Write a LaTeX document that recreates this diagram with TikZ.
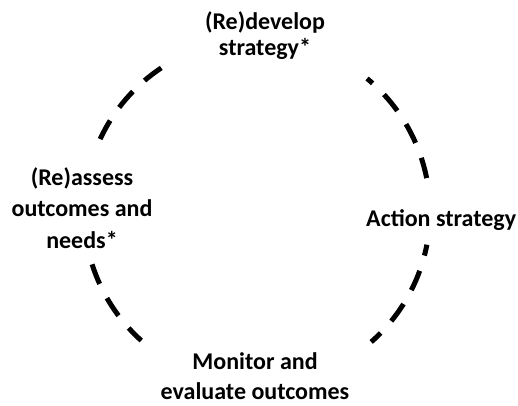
\documentclass[tikz,border=0pt]{standalone}
\usepackage{fontspec}
\setmainfont{Carlito}
\begin{document}
\begin{tikzpicture}[x=1pt,y=1pt,
  cyclearc/.style={line width=5pt, line cap=butt, dash pattern=on 21pt off 16pt},
  stage/.style={inner sep=0pt, align=center, font=\bfseries\fontsize{24}{31.5}\selectfont}]
\useasboundingbox (0,0) rectangle (518,405);
\coordinate (c) at (257,193);
\def\rad{173}
% stage labels (anchored at the baseline of their last line)
\node[stage, anchor=base, font=\bfseries\fontsize{24}{26}\selectfont] (develop) at (265,349) {(Re)develop\\strategy*};
\node[stage, anchor=base west] (action) at (366,179) {Action strategy};
\node[stage, anchor=base, font=\bfseries\fontsize{24}{30}\selectfont] (monitor) at (255,6) {Monitor and\\evaluate outcomes};
\node[stage, anchor=base] (assess) at (82,157) {(Re)assess\\outcomes and\\needs*};
% dashed cycle, broken where the labels sit
\draw[cyclearc] (c) ++(11.3:\rad) arc[start angle=11.3, end angle=50.5, radius=\rad];
\draw[cyclearc, dash phase=8pt] (c) ++(-48.7:\rad) arc[start angle=-48.7, end angle=-10.9, radius=\rad];
\draw[cyclearc] (c) ++(197.6:\rad) arc[start angle=197.6, end angle=228, radius=\rad];
\draw[cyclearc] (c) ++(123.6:\rad) arc[start angle=123.6, end angle=155.1, radius=\rad];
\end{tikzpicture}
\end{document}
